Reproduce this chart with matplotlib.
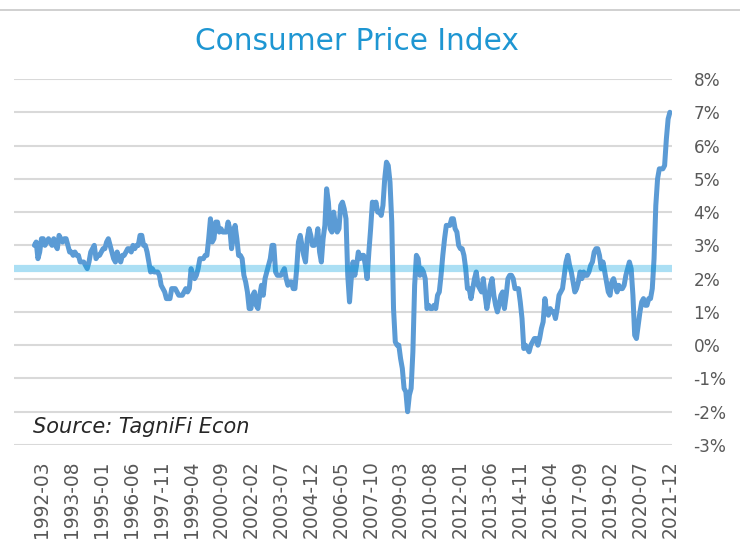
import numpy as np
import pandas as pd
import matplotlib
matplotlib.use("Agg")
import matplotlib.pyplot as plt
from matplotlib.lines import Line2D

# monthly CPI, year over year change (%), 1991-11 .. 2021-12
cpi_1991 = [3.0, 3.1]
cpi_by_year = {
    1992: [2.6, 2.8, 3.2, 3.2, 3.0, 3.1, 3.2, 3.1, 3.0, 3.2, 3.0, 2.9],
    1993: [3.3, 3.2, 3.1, 3.2, 3.2, 3.0, 2.8, 2.8, 2.7, 2.8, 2.7, 2.7],
    1994: [2.5, 2.5, 2.5, 2.4, 2.3, 2.5, 2.8, 2.9, 3.0, 2.6, 2.7, 2.7],
    1995: [2.8, 2.9, 2.9, 3.1, 3.2, 3.0, 2.8, 2.6, 2.5, 2.8, 2.6, 2.5],
    1996: [2.7, 2.7, 2.8, 2.9, 2.9, 2.8, 3.0, 2.9, 3.0, 3.0, 3.3, 3.3],
    1997: [3.0, 3.0, 2.8, 2.5, 2.2, 2.3, 2.2, 2.2, 2.2, 2.1, 1.8, 1.7],
    1998: [1.6, 1.4, 1.4, 1.4, 1.7, 1.7, 1.7, 1.6, 1.5, 1.5, 1.5, 1.6],
    1999: [1.7, 1.6, 1.7, 2.3, 2.1, 2.0, 2.1, 2.3, 2.6, 2.6, 2.6, 2.7],
    2000: [2.7, 3.2, 3.8, 3.1, 3.2, 3.7, 3.7, 3.4, 3.5, 3.4, 3.4, 3.4],
    2001: [3.7, 3.5, 2.9, 3.3, 3.6, 3.2, 2.7, 2.7, 2.6, 2.1, 1.9, 1.6],
    2002: [1.1, 1.1, 1.5, 1.6, 1.2, 1.1, 1.5, 1.8, 1.5, 2.0, 2.2, 2.4],
    2003: [2.6, 3.0, 3.0, 2.2, 2.1, 2.1, 2.1, 2.2, 2.3, 2.0, 1.8, 1.9],
    2004: [1.9, 1.7, 1.7, 2.3, 3.1, 3.3, 3.0, 2.7, 2.5, 3.2, 3.5, 3.3],
    2005: [3.0, 3.0, 3.1, 3.5, 2.8, 2.5, 3.2, 3.6, 4.7, 4.3, 3.5, 3.4],
    2006: [4.0, 3.6, 3.4, 3.5, 4.2, 4.3, 4.1, 3.8, 2.1, 1.3, 2.0, 2.5],
    2007: [2.1, 2.4, 2.8, 2.6, 2.7, 2.7, 2.4, 2.0, 2.8, 3.5, 4.3, 4.1],
    2008: [4.3, 4.0, 4.0, 3.9, 4.2, 5.0, 5.5, 5.4, 4.9, 3.7, 1.1, 0.1],
    2009: [0.0, 0.0, -0.4, -0.7, -1.3, -1.4, -2.0, -1.5, -1.3, -0.2, 1.8, 2.7],
    2010: [2.6, 2.1, 2.3, 2.2, 2.0, 1.1, 1.2, 1.1, 1.1, 1.2, 1.1, 1.5],
    2011: [1.6, 2.1, 2.7, 3.2, 3.6, 3.6, 3.6, 3.8, 3.8, 3.5, 3.4, 3.0],
    2012: [2.9, 2.9, 2.7, 2.3, 1.7, 1.7, 1.4, 1.7, 2.0, 2.2, 1.8, 1.7],
    2013: [1.6, 2.0, 1.5, 1.1, 1.4, 1.8, 2.0, 1.5, 1.2, 1.0, 1.2, 1.5],
    2014: [1.6, 1.1, 1.5, 2.0, 2.1, 2.1, 2.0, 1.7, 1.7, 1.7, 1.3, 0.8],
    2015: [-0.1, 0.0, -0.1, -0.2, 0.0, 0.1, 0.2, 0.2, 0.0, 0.2, 0.5, 0.7],
    2016: [1.4, 1.0, 0.9, 1.1, 1.0, 1.0, 0.8, 1.1, 1.5, 1.6, 1.7, 2.1],
    2017: [2.5, 2.7, 2.4, 2.2, 1.9, 1.6, 1.7, 1.9, 2.2, 2.0, 2.2, 2.1],
    2018: [2.1, 2.2, 2.4, 2.5, 2.8, 2.9, 2.9, 2.7, 2.3, 2.5, 2.2, 1.9],
    2019: [1.6, 1.5, 1.9, 2.0, 1.8, 1.6, 1.8, 1.7, 1.7, 1.8, 2.1, 2.3],
    2020: [2.5, 2.3, 1.5, 0.3, 0.2, 0.6, 1.0, 1.3, 1.4, 1.2, 1.2, 1.4],
    2021: [1.4, 1.7, 2.6, 4.2, 5.0, 5.3, 5.3, 5.3, 5.4, 6.2, 6.8, 7.0],
}
avg_cpi = 2.33

cpi = np.array(cpi_1991 + [v for y in sorted(cpi_by_year) for v in cpi_by_year[y]])
months = pd.date_range("1991-11-01", periods=len(cpi), freq="MS")
x = np.arange(len(cpi))

# label every 17 months, starting at 1992-03
tick_idx = x[4::17]
tick_labels = [months[i].strftime("%Y-%m") for i in tick_idx]

fig = plt.figure(figsize=(7.4, 5.42), dpi=100)
ax = fig.add_axes([14 / 740, 1 - 445 / 542, 658 / 740, 366 / 542])

ax.plot(x, cpi, color="#5B9BD5", lw=3.6, solid_joinstyle="round",
        solid_capstyle="round", zorder=3)
ax.axhline(avg_cpi, color="#00A0E0", alpha=0.33, lw=5.2, zorder=4)

ax.set_xlim(-11.6, 362.2)
ax.set_ylim(-3, 8)
ax.set_yticks(np.arange(-3, 9, 1))
ax.set_yticklabels([f"{v}%" for v in range(-3, 9)])
ax.yaxis.tick_right()
ax.set_xticks(tick_idx)
ax.set_xticklabels(tick_labels, rotation=90, va="top", ha="center")

ax.grid(axis="y", color="#D9D9D9", lw=1.5, zorder=0)
ax.tick_params(axis="y", length=0, pad=15.5, labelsize=12.2, labelcolor="#595959")
ax.tick_params(axis="x", length=0, pad=11, labelsize=13.4, labelcolor="#595959")
for lab in ax.get_yticklabels():
    lab.set_horizontalalignment("left")
for s in ax.spines.values():
    s.set_visible(False)

ax.text(33 / 740, 1 - 427 / 542, "Source: TagniFi Econ", transform=fig.transFigure,
        fontsize=15, style="italic", color="#262626", va="center", ha="left")

fig.text(357 / 740, 1 - 41 / 542, "Consumer Price Index", fontsize=21.3,
         color="#1E96D2", ha="center", va="center")
fig.add_artist(Line2D([0, 1], [1 - 9.5 / 542] * 2, color="#C8C8C8", lw=1.2))

fig.savefig("out.png", dpi=100)
